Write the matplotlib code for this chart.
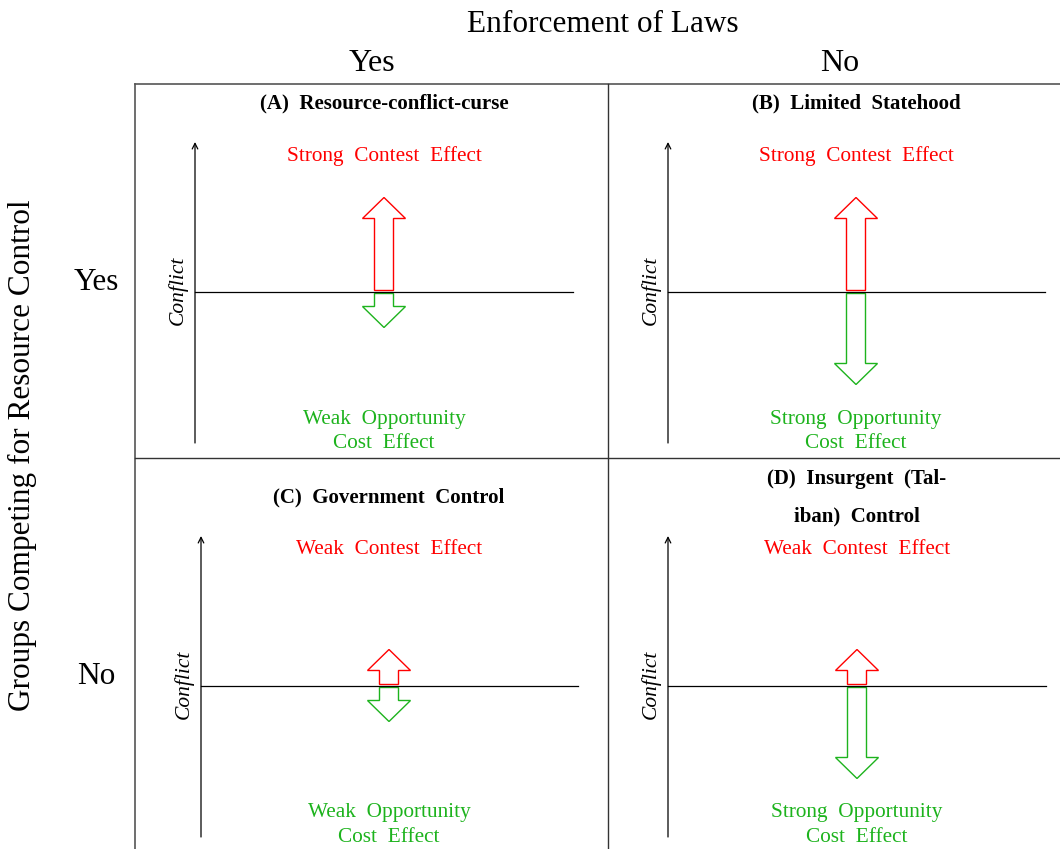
import matplotlib.pyplot as plt
from matplotlib.patches import Polygon

plt.rcParams["font.family"] = ["Liberation Serif", "DejaVu Serif"]

# Panel data (order: A, B, C, D)
titles = [["(A)  Resource-conflict-curse"], ["(B)  Limited  Statehood"],
          ["(C)  Government  Control"], ["(D)  Insurgent  (Tal-", "iban)  Control"]]
contest_labels = ["Strong  Contest  Effect", "Strong  Contest  Effect",
                  "Weak  Contest  Effect", "Weak  Contest  Effect"]
opportunity_labels = [["Weak  Opportunity", "Cost  Effect"], ["Strong  Opportunity", "Cost  Effect"],
                      ["Weak  Opportunity", "Cost  Effect"], ["Strong  Opportunity", "Cost  Effect"]]
# arrow magnitudes (upward contest effect, downward opportunity cost effect)
contest_effect = [93, 93, 35, 35]
opportunity_effect = [34, 91, 34, 91]

col_labels = ["Yes", "No"]
row_labels = ["Yes", "No"]

RED = "#ff0000"
GREEN = "#1db31d"

fig = plt.figure(figsize=(10.6, 8.49), dpi=100)
ax = fig.add_axes([0, 0, 1, 1])
ax.set_xlim(0, 1060)
ax.set_ylim(849, 0)
ax.axis("off")

# grid
ax.plot([135, 1060], [84, 84], color="#555555", lw=1.2)
ax.plot([135, 135], [84, 849], color="#555555", lw=1.2)
ax.plot([608, 608], [84, 849], color="#333333", lw=1.0)
ax.plot([135, 1060], [458, 458], color="#333333", lw=1.0)

# headers
ax.text(603, 24, "Enforcement of Laws", ha="center", va="center", fontsize=22.5)
ax.text(22, 455, "Groups Competing for Resource Control", ha="center", va="center",
        fontsize=22.5, rotation=90)
for x, lab in zip([372, 840], col_labels):
    ax.text(x, 63, lab, ha="center", va="center", fontsize=23)
for y, lab in zip([283, 676], row_labels):
    ax.text(96, y, lab, ha="center", va="center", fontsize=22.5)

# panel layout: (axis x, arrow centre x, zero line y, line end x)
panels = [(195, 384, 292, 573), (668, 856, 292, 1045),
          (201, 389, 686, 578), (668, 857, 686, 1046)]


def block_arrow(xc, y0, length, direction, color):
    hw, sw, hl = 21.5, 9.5, 21
    tip = y0 + direction * length
    hb = tip - direction * hl
    pts = [(xc - sw, y0), (xc - sw, hb), (xc - hw, hb), (xc, tip),
           (xc + hw, hb), (xc + sw, hb), (xc + sw, y0)]
    ax.add_patch(Polygon(pts, closed=True, fill=False, edgecolor=color, lw=1.0))


for i, (axx, xc, y0, xend) in enumerate(panels):
    top = y0 - 150
    bot = y0 + 151
    ax.annotate("", xy=(axx, top), xytext=(axx, bot),
                arrowprops=dict(arrowstyle="->", color="black", lw=0.9,
                                shrinkA=0, shrinkB=0))
    ax.plot([axx, xend], [y0, y0], color="black", lw=0.9)
    ax.text(axx - 17, y0 - 2, "Conflict", rotation=90, ha="center", va="center",
            fontsize=15.5, style="italic")

    block_arrow(xc, y0 - 1.5, contest_effect[i], -1, RED)
    block_arrow(xc, y0 + 1.5, opportunity_effect[i], 1, GREEN)

    if len(titles[i]) == 2:
        ty = [y0 - 207, y0 - 170]
    else:
        ty = [y0 - 189]
    for y, t in zip(ty, titles[i]):
        ax.text(xc, y, t, ha="center", va="center", fontsize=15, fontweight="bold")
    ax.text(xc, y0 - 136, contest_labels[i], ha="center", va="center",
            fontsize=15.3, color=RED)
    for k, t in enumerate(opportunity_labels[i]):
        ax.text(xc, y0 + 127 + 24 * k, t, ha="center", va="center",
                fontsize=15.3, color=GREEN)

fig.savefig("out.png", dpi=100)
